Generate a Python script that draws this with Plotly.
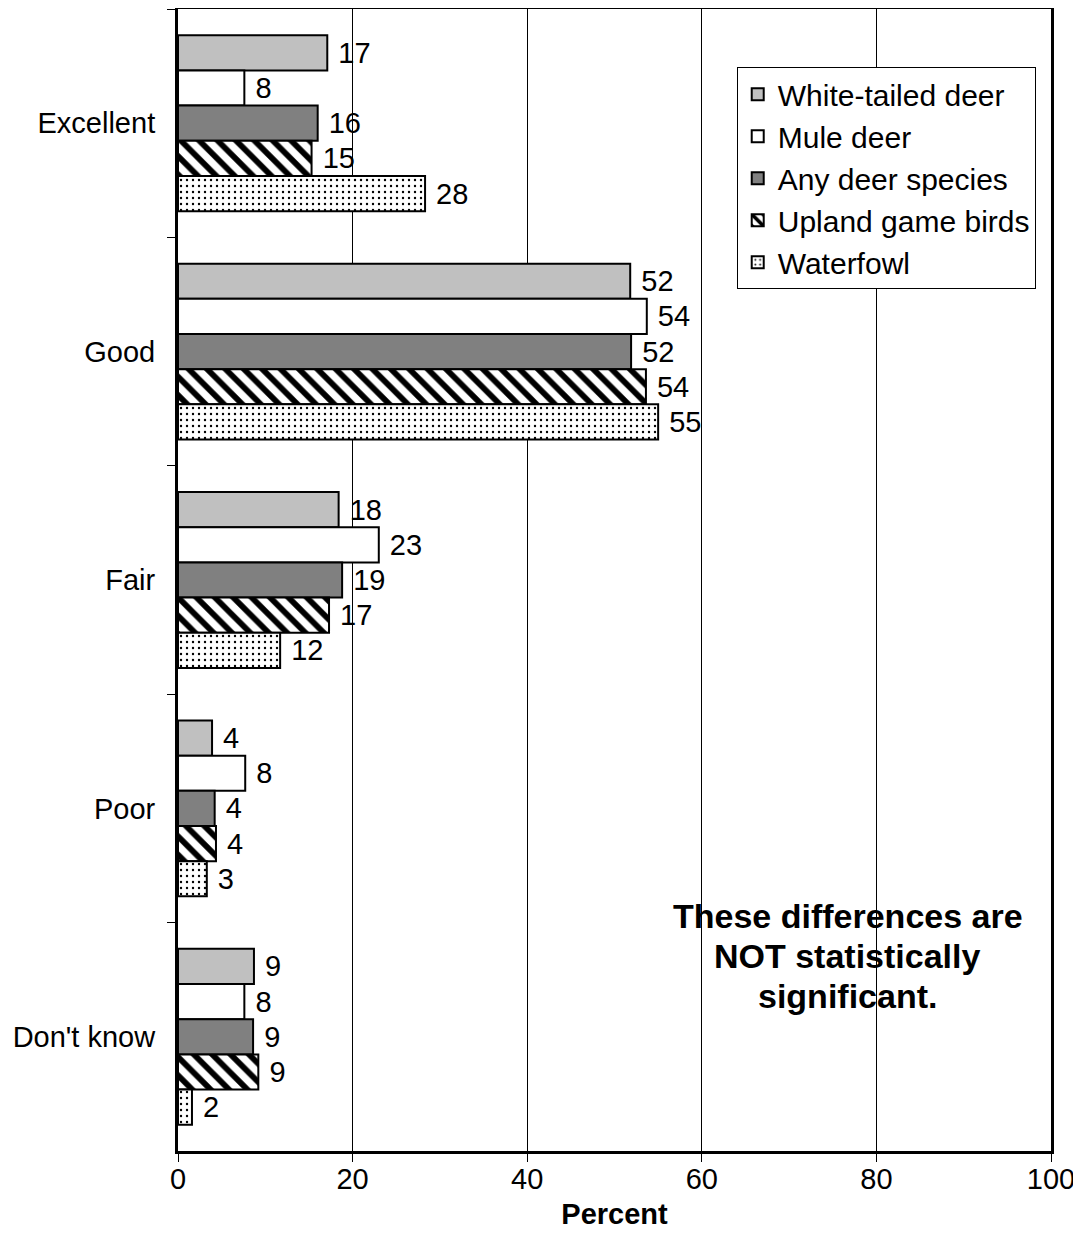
import plotly.graph_objects as go

categories = ["Excellent", "Good", "Fair", "Poor", "Don't know"]
series_names = ["White-tailed deer", "Mule deer", "Any deer species", "Upland game birds", "Waterfowl"]

white_tailed = [17.1, 51.8, 18.4, 3.9, 8.7]
mule = [7.6, 53.7, 23.0, 7.7, 7.6]
any_deer = [16.0, 51.9, 18.8, 4.2, 8.6]
upland = [15.3, 53.6, 17.3, 4.35, 9.2]
waterfowl = [28.3, 55.0, 11.7, 3.3, 1.6]

white_tailed_lbl = [17, 52, 18, 4, 9]
mule_lbl = [8, 54, 23, 8, 8]
any_deer_lbl = [16, 52, 19, 4, 9]
upland_lbl = [15, 54, 17, 4, 9]
waterfowl_lbl = [28, 55, 12, 3, 2]

note_lines = ["These differences are", "NOT statistically", "significant."]

values = [white_tailed, mule, any_deer, upland, waterfowl]
labels = [white_tailed_lbl, mule_lbl, any_deer_lbl, upland_lbl, waterfowl_lbl]

# fill styles for each series
styles = [
    dict(color="#c0c0c0"),
    dict(color="#ffffff"),
    dict(color="#808080"),
    dict(color="#ffffff", pattern=dict(shape="\\", fgcolor="black", fgopacity=1,
                                       bgcolor="white", size=13, solidity=0.45)),
    dict(color="#ffffff", pattern=dict(shape=".", fgcolor="black", fgopacity=1,
                                       bgcolor="white", size=6, solidity=0.12)),
]

FONT = "Arial, Liberation Sans, sans-serif"

fig = go.Figure()
for name, vals, lbls, st in zip(series_names, values, labels, styles):
    fig.add_trace(go.Bar(
        y=categories, x=vals, name=name, orientation="h",
        text=[" " + str(v) for v in lbls], textposition="outside",
        textfont=dict(size=29, color="black", family=FONT),
        marker=dict(line=dict(color="black", width=2), **st),
        cliponaxis=False,
    ))

# page body has an 8px margin, so the figure is a bit smaller and shifted
notes = []
for i, line in enumerate(note_lines):
    notes.append(dict(
        x=0.767, y=0.171, xref="paper", yref="paper", yshift=40 - 40 * i,
        xanchor="center", yanchor="middle",
        text="<b>" + line + "</b>", showarrow=False,
        font=dict(size=34, family=FONT), align="center",
    ))

fig.update_layout(
    width=1073, height=1249,
    margin=dict(l=170, r=30, t=1, b=106, autoexpand=False),
    paper_bgcolor="white", plot_bgcolor="white",
    font=dict(family=FONT, size=29, color="black"),
    barmode="group", bargap=0.23, bargroupgap=0,
    showlegend=True,
    legend=dict(
        x=0.64, y=0.949, xanchor="left", yanchor="top",
        bordercolor="black", borderwidth=1, bgcolor="white",
        font=dict(size=30, family=FONT), traceorder="normal",
        tracegroupgap=0, itemwidth=30,
    ),
    xaxis=dict(
        range=[0, 100], dtick=20, showgrid=True, gridcolor="black", gridwidth=1,
        showline=True, linecolor="black", linewidth=3, mirror=True,
        ticks="outside", ticklen=8, tickcolor="black", automargin=False,
        tickfont=dict(size=29), zeroline=False, ticklabelstandoff=-8,
        title=dict(text="<b>Percent</b>", font=dict(size=29), standoff=10),
    ),
    yaxis=dict(
        categoryorder="array", categoryarray=categories, autorange="reversed",
        showline=True, linecolor="black", linewidth=3, mirror=True,
        ticks="outside", ticklen=8, tickcolor="black", tickson="boundaries",
        tickfont=dict(size=29), ticklabelstandoff=14, automargin=False,
    ),
    annotations=notes,
)

fig.write_html("out.html")
